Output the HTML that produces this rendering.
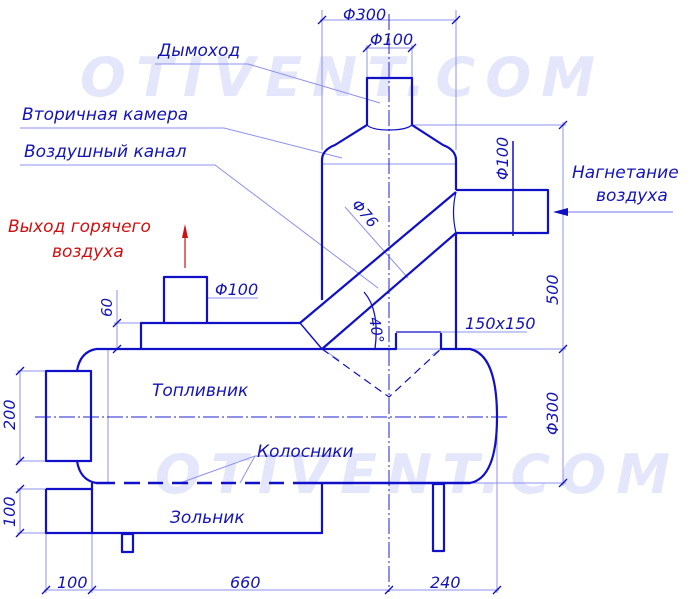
<!DOCTYPE html>
<html><head><meta charset="utf-8"><style>
html,body{margin:0;padding:0;background:#fff;}
svg{display:block;}
text{font-family:"DejaVu Sans","Liberation Sans",sans-serif;font-style:italic;}
</style></head><body>
<svg width="700" height="599" viewBox="0 0 700 599" xmlns="http://www.w3.org/2000/svg">
<!-- watermarks -->
<g fill="#e4e6fb" font-size="54" font-weight="bold">
<text x="80" y="96" textLength="515" lengthAdjust="spacing">OTIVENT.COM</text>
<text x="155" y="493" textLength="515" lengthAdjust="spacing">OTIVENT.COM</text>
</g>
<!-- thin lines -->
<g stroke="#8c90f0" stroke-width="1" fill="none">
<line x1="322" y1="10" x2="322" y2="150"/><line x1="456" y1="10" x2="456" y2="150"/>
<line x1="320" y1="20" x2="458" y2="20"/>
<line x1="367" y1="45" x2="367" y2="80"/><line x1="412" y1="45" x2="412" y2="80"/>
<line x1="365" y1="48" x2="414" y2="48"/>
<line x1="412" y1="125" x2="566" y2="125"/>
<line x1="563" y1="122" x2="563" y2="486"/>
<line x1="456" y1="349" x2="566" y2="349"/>
<line x1="470" y1="483" x2="566" y2="483"/>
<line x1="441" y1="332" x2="527" y2="332"/>
<polyline points="155,64 248,64 380,103"/>
<polyline points="20,128 224,128 342,158"/>
<polyline points="20,165 215,165 378,288"/>
<line x1="322" y1="164" x2="456" y2="164"/>
<line x1="345" y1="207" x2="408" y2="278"/>
<line x1="20" y1="371" x2="20" y2="461"/><line x1="17" y1="371" x2="46" y2="371"/><line x1="17" y1="461" x2="46" y2="461"/>
<line x1="20" y1="489" x2="20" y2="533"/><line x1="17" y1="489" x2="46" y2="489"/><line x1="17" y1="533" x2="46" y2="533"/>
<line x1="117" y1="290" x2="117" y2="349"/><line x1="114" y1="323" x2="141" y2="323"/>
<line x1="207" y1="298" x2="258" y2="298"/>
<line x1="108" y1="349" x2="108" y2="483"/>
<line x1="46" y1="533" x2="46" y2="593"/><line x1="92" y1="483" x2="92" y2="593"/>
<line x1="497" y1="417" x2="497" y2="593"/>
<line x1="44" y1="590" x2="499" y2="590"/>
<polyline points="340,456 255,456 180,483"/>
<line x1="255" y1="456" x2="240" y2="483"/>
<line x1="389" y1="14" x2="389" y2="592" stroke="#2020d0" stroke-dasharray="16,3,2,3"/>
<line x1="35" y1="417" x2="510" y2="417" stroke="#2020d0" stroke-dasharray="16,3,2,3"/>
<line x1="300" y1="349" x2="322" y2="349"/>
<line x1="396" y1="349" x2="441" y2="349"/>
<line x1="322" y1="349" x2="339" y2="360"/>
<line x1="441" y1="349" x2="432" y2="355"/>
</g>
<g stroke="#1010c0" stroke-width="1.3">
<line x1="318" y1="24" x2="326" y2="16"/><line x1="452" y1="24" x2="460" y2="16"/>
<line x1="363" y1="52" x2="371" y2="44"/><line x1="408" y1="52" x2="416" y2="44"/>
<line x1="559" y1="129" x2="567" y2="121"/><line x1="559" y1="353" x2="567" y2="345"/><line x1="559" y1="487" x2="567" y2="479"/>
<line x1="16" y1="375" x2="24" y2="367"/><line x1="16" y1="465" x2="24" y2="457"/>
<line x1="16" y1="493" x2="24" y2="485"/><line x1="16" y1="537" x2="24" y2="529"/>
<line x1="113" y1="327" x2="121" y2="319"/><line x1="113" y1="353" x2="121" y2="345"/>
<line x1="42" y1="594" x2="50" y2="586"/><line x1="88" y1="594" x2="96" y2="586"/><line x1="385" y1="594" x2="393" y2="586"/><line x1="493" y1="594" x2="501" y2="586"/>
</g>
<g stroke="#1010c8" stroke-width="2.2" fill="none" stroke-linejoin="round">
<path d="M367 125 V78 H412 V125"/>
<path d="M367 125 Q372 130 389 130 Q406 130 412 125" stroke-width="1.2"/>
<path d="M322 300 V160 Q322 150 335 145 L367 125"/>
<path d="M412 125 L443 145 Q456 150 456 160 V190"/>
<path d="M456 233 V349"/>
<path d="M456 190 H548 V233 H456"/>
<path d="M456 192 Q451 212 456 233" stroke-width="1.2"/>
<line x1="513" y1="141" x2="513" y2="236" stroke-width="1.5"/>
<line x1="300" y1="323" x2="456" y2="192"/>
<line x1="322" y1="349" x2="456" y2="233"/>
<line x1="300" y1="323" x2="322" y2="349" stroke-width="1.4"/>
<path d="M141 349 V323 H300"/>
<path d="M164 323 V277 H207 V323"/>
<path d="M96 349 H396 V333 M441 333 V349 H470 Q497 355 497 417 Q497 478 470 483"/>
<path d="M96 349 Q80 352 77 371"/>
<path d="M77 461 Q80 480 96 483"/>
<path d="M96 483 H115 M124 483 H140 M148 483 H163 M172 483 H188 M197 483 H212 M221 483 H236 M245 483 H260 M269 483 H284 M293 483 H470" stroke-width="2.6"/>
<rect x="46" y="371" width="45" height="90"/>
<path d="M46 489 H92 V483 M46 489 V533 H322 V483"/>
<line x1="92" y1="489" x2="92" y2="533"/>
<rect x="122" y="534" width="11" height="18"/>
<rect x="433" y="484" width="11" height="67"/>
<line x1="396" y1="332" x2="441" y2="332" stroke-width="1.3"/>
<path d="M364 292 Q380 310 375 349" stroke-width="1.3"/>
<path d="M322 349 L389 397 L441 349" stroke-width="1.2" stroke-dasharray="8,5"/>
</g>
<g stroke="#d01010" stroke-width="1.2"><line x1="185" y1="228" x2="185" y2="268"/></g>
<polygon points="185,224 182,238 188,238" fill="#d01010"/>
<line x1="555" y1="212" x2="673" y2="212" stroke="#8c90f0" stroke-width="1.2"/>
<polygon points="553,212 568,208 568,216" fill="#1010c0"/>
<g fill="#1414b4" font-size="17">
<text x="158" y="56">Дымоход</text>
<text x="22" y="120">Вторичная камера</text>
<text x="24" y="157">Воздушный канал</text>
<text x="572" y="178">Нагнетание</text>
<text x="596" y="201">воздуха</text>
<text x="152" y="396">Топливник</text>
<text x="257" y="457">Колосники</text>
<text x="170" y="523">Зольник</text>
<text x="343" y="20" font-size="16">Φ300</text>
<text x="370" y="45" font-size="16">Φ100</text>
<text x="215" y="295" font-size="16">Φ100</text>
<text x="465" y="329" font-size="16">150x150</text>
<text x="230" y="588" font-size="16">660</text>
<text x="57" y="588" font-size="16">100</text>
<text x="430" y="588" font-size="16">240</text>
<text transform="translate(508,180) rotate(-90)" font-size="16">Φ100</text>
<text transform="translate(558,305) rotate(-90)" font-size="16">500</text>
<text transform="translate(558,435) rotate(-90)" font-size="16">Φ300</text>
<text transform="translate(15,430) rotate(-90)" font-size="16">200</text>
<text transform="translate(15,527) rotate(-90)" font-size="16">100</text>
<text transform="translate(112,317) rotate(-90)" font-size="15">60</text>
<text transform="translate(351,205) rotate(50)" font-size="15">Φ76</text>
<text transform="translate(369,318) rotate(80)" font-size="15">40°</text>
</g>
<g fill="#d01010" font-size="17">
<text x="8" y="232">Выход горячего</text>
<text x="52" y="257">воздуха</text>
</g>
</svg>
</body></html>
